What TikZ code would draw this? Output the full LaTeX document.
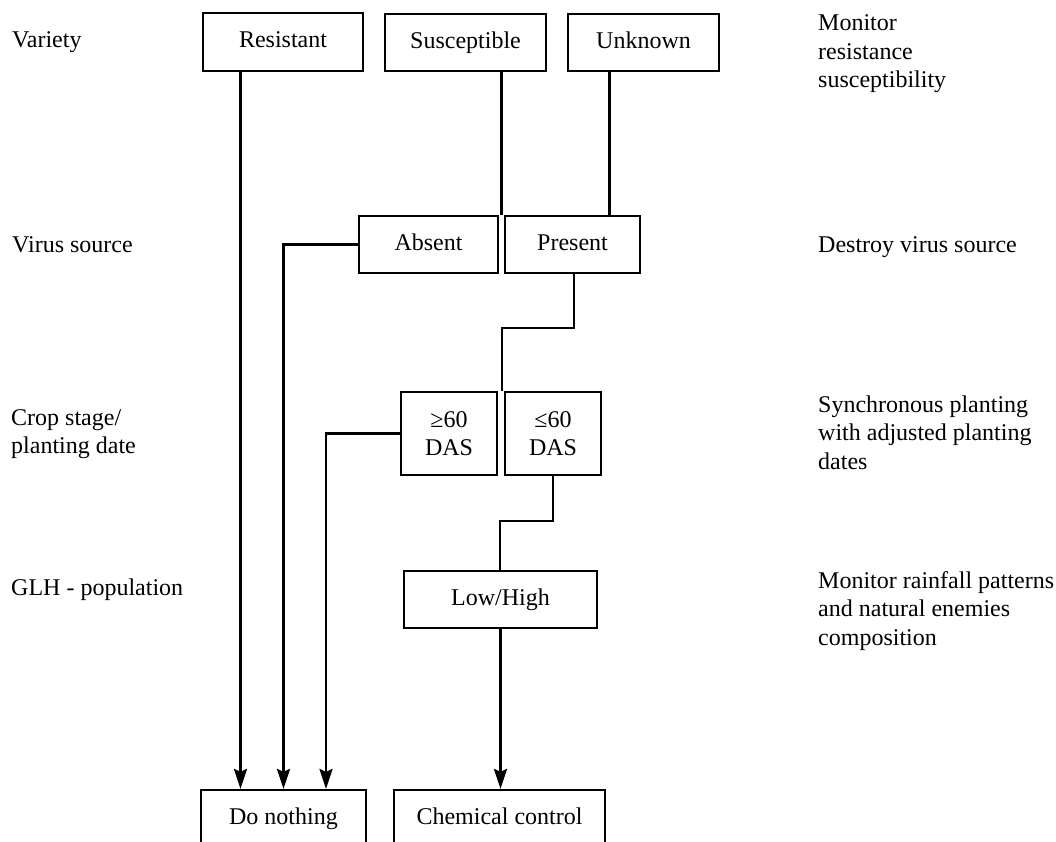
\documentclass[tikz,border=0pt]{standalone}
\usepackage{fontspec}
\setmainfont{Liberation Serif}
\usetikzlibrary{arrows.meta,calc}

\begin{document}
\begin{tikzpicture}[x=1pt,y=-1pt,
  box/.style={draw,line width=2.2pt,inner sep=0pt,text height=16.5pt,text depth=5.2pt,
    font=\fontsize{24}{28}\selectfont},
  box2/.style={draw,line width=2.2pt,inner sep=0pt,align=center,
    font=\fontsize{24}{28}\selectfont},
  lbl/.style={anchor=base west,inner sep=0pt,font=\fontsize{24}{28.5}\selectfont},
  link/.style={line width=2.4pt},
  arr/.style={link,-{Stealth[length=20pt,width=13pt,inset=3pt]}}]

\useasboundingbox (0,0) rectangle (1056,842);
\clip (0,0) rectangle (1056,842);

% decision boxes
\node[box,minimum width=160pt,minimum height=58pt] (res)     at (283,42)      {Resistant};
\node[box,minimum width=161pt,minimum height=57pt] (susc)    at (465.5,42.5)  {Susceptible};
\node[box,minimum width=151pt,minimum height=57pt] (unk)     at (643.5,42.5)  {Unknown};
\node[box,minimum width=139pt,minimum height=57pt] (absent)  at (428.5,244.5) {Absent};
\node[box,minimum width=135pt,minimum height=57pt] (present) at (572.5,244.5) {Present};
\node[box2,minimum width=96pt,minimum height=83pt] (das1)    at (449,433.5)   {≥60\\DAS};
\node[box2,minimum width=96pt,minimum height=83pt] (das2)    at (553,433.5)   {≤60\\DAS};
\node[box,minimum width=193pt,minimum height=57pt] (low)     at (500.5,599.5) {Low/High};
\node[box,minimum width=165pt,minimum height=57pt] (dn)      at (283.5,818.5) {Do nothing};
\node[box,minimum width=211pt,minimum height=57pt] (chem)    at (499.5,818.5) {Chemical control};

% row labels
\node[lbl] (lvar)   at (12,48)  {Variety};
\node[lbl] (lvir)   at (12,252) {Virus source};
\node[lbl] (lcrop)  at (11,425) {\begin{tabular}[t]{@{}l@{}}Crop stage/\\planting date\end{tabular}};
\node[lbl] (lglh)   at (11,595) {GLH - population};

% management actions
\node[lbl] (rvar)   at (818,31)  {\begin{tabular}[t]{@{}l@{}}Monitor\\resistance\\susceptibility\end{tabular}};
\node[lbl] (rvir)   at (818,252) {Destroy virus source};
\node[lbl] (rcrop)  at (818,412) {\begin{tabular}[t]{@{}l@{}}Synchronous planting\\with adjusted planting\\dates\end{tabular}};
\node[lbl] (rglh)   at (818,588) {\begin{tabular}[t]{@{}l@{}}Monitor rainfall patterns\\and natural enemies\\composition\end{tabular}};

% connector columns and bends
\coordinate (xa) at (240.5,0);
\coordinate (xb) at (283.5,0);
\coordinate (xc) at (326,0);
\coordinate (xs) at (501.5,0);
\coordinate (xu) at (609.5,0);
\coordinate (p1) at (574,328);
\coordinate (p2) at (502,328);
\coordinate (q1) at (553,521);
\coordinate (q2) at (500,521);

% connectors
\draw[arr]  (res.south -| xa) -- (dn.north -| xa);
\draw[link] (susc.south -| xs) -- (absent.north -| xs);
\draw[link] (unk.south -| xu) -- (present.north -| xu);
\draw[arr]  (absent.west) -- (absent.west -| xb) -- (dn.north -| xb);
\draw[link] (present.south -| p1) -- (p1) -- (p2) -- (p2 |- das1.north);
\draw[arr]  (das1.west) -- (das1.west -| xc) -- (dn.north -| xc);
\draw[link] (das2.south -| q1) -- (q1) -- (q2) -- (q2 |- low.north);
\draw[arr]  (low.south) -- (low.south |- chem.north);

\end{tikzpicture}
\end{document}
